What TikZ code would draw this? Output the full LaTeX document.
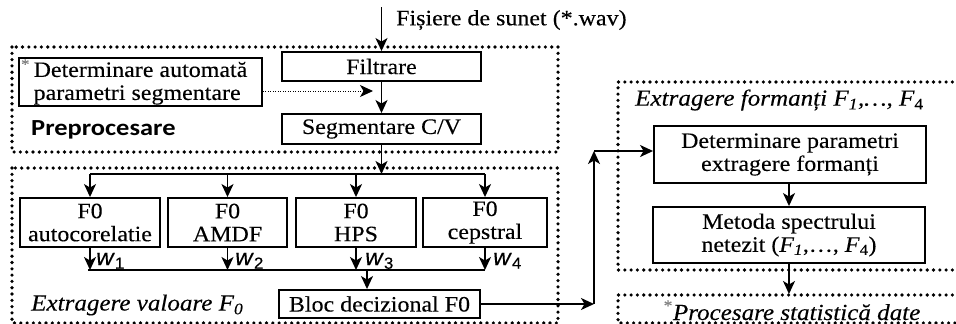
\documentclass[tikz,border=0pt]{standalone}
\usepackage{fontspec}
\setmainfont{Liberation Serif}[FakeStretch=1.09,FakeBold=0.2]
\newfontfamily\calib{Carlito}[FakeStretch=1.15]
\newfontfamily\arialf{Liberation Sans}[FakeStretch=1.05,FakeBold=0.3]
\usetikzlibrary{arrows.meta}
\tikzset{
  box/.style={draw, line width=1.9pt, align=center, inner sep=0pt, font=\fontsize{22}{23}\selectfont},
  region/.style={line width=3.6pt, dash pattern=on 0pt off 6.3pt, line cap=round},
  arr/.style={line width=1.7pt, -{Stealth[length=13pt,width=12pt,inset=3.5pt]}},
  dotarr/.style={line width=1pt, dash pattern=on 1pt off 1.5pt, -{Stealth[length=13pt,width=12pt,inset=3.5pt]}},
  bus/.style={line width=1.7pt},
  txt/.style={inner sep=0pt, font=\fontsize{22}{23}\selectfont},
  ttl/.style={inner sep=0pt, font=\fontsize{23}{24}\selectfont\itshape},
  wlab/.style={inner sep=0pt, font=\arialf\fontsize{23}{24}\selectfont}
}
\begin{document}
\begin{tikzpicture}[x=1pt,y=-1pt]
\useasboundingbox (0,0) rectangle (956,324);
% dotted regions
\draw[region] (12,47) rectangle (558,152);
\draw[region] (12,168) rectangle (558,323);
\draw[region] (965,82) -- (618,82) -- (618,270) -- (965,270);
\draw[region] (965,295) -- (618,295) -- (618,323) -- (965,323);
% input
\node[txt, anchor=west] (src) at (396,20) {Fișiere de sunet (*.wav)};
% preprocessing
\node[box, minimum width=199pt, minimum height=29pt] (filt) at (381.5,66.5) {Filtrare};
\node[box, minimum width=199pt, minimum height=30pt] (seg) at (381.5,129) {Segmentare C/V};
\node[box, minimum width=243pt, minimum height=48pt, align=left] (auto) at (140.5,82)
  {\llap{\textcolor{gray}{\textsuperscript{*}}\,}Determinare automată\\parametri segmentare};
\node[inner sep=0pt, anchor=west, font=\calib\bfseries\fontsize{23}{24}\selectfont] (pre) at (31,130) {Preprocesare};
\coordinate (in) at (381.5,7);
\draw[arr] (in) -- (filt.north);
\draw[arr] (filt.south) -- (seg.north);
\coordinate (dj) at (373,91);
\draw[dotarr] (auto.east |- dj) -- (dj);
% F0 extraction
\node[box, minimum width=140pt, minimum height=49pt] (a1) at (90,222.5) {F0\\autocorelatie};
\node[box, minimum width=119pt, minimum height=49pt] (a2) at (227.5,222.5) {F0\\AMDF};
\node[box, minimum width=120pt, minimum height=49pt] (a3) at (356,222.5) {F0\\HPS};
\node[box, minimum width=124pt, minimum height=49pt] (a4) at (485,222.5) {F0\\cepstral};
\coordinate (b1) at (381.5,174);
\draw[arr] (seg.south) -- (b1);
\draw[bus] (a1.north |- b1) -- (a4.north |- b1);
\foreach \n in {a1,a2,a3,a4} \draw[arr] (\n.north |- b1) -- (\n.north);
\coordinate (b2) at (367,270);
\foreach \n in {a1,a2,a3,a4} \draw[arr] (\n.south) -- (\n.south |- b2);
\draw[bus] ([xshift=-2pt]a1.south |- b2) -- (a4.south |- b2);
\node[wlab, anchor=base west] (w1) at (96,265) {\textit{w}\textsubscript{1}};
\node[wlab, anchor=base west] (w2) at (235,265) {\textit{w}\textsubscript{2}};
\node[wlab, anchor=base west] (w3) at (365,265) {\textit{w}\textsubscript{3}};
\node[wlab, anchor=base west] (w4) at (493,265) {\textit{w}\textsubscript{4}};
\node[box, minimum width=201pt, minimum height=28pt] (bloc) at (379.5,304) {Bloc decizional F0};
\draw[arr] (b2) -- (b2 |- bloc.north);
\node[ttl, anchor=west] (tf0) at (31,305) {Extragere valoare F\textsubscript{0}};
% formants
\node[ttl, anchor=west] (tfr) at (635,100) {Extragere formanți F\textsubscript{1},…, F\textsubscript{\upshape 4}};
\node[box, minimum width=272pt, minimum height=57pt] (dpf) at (790,154.5) {Determinare parametri\\extragere formanți};
\node[box, minimum width=272pt, minimum height=56pt] (met) at (789,235) {Metoda spectrului\\netezit (\textit{F\textsubscript{1}},…, \textit{F}\textsubscript{4})};
\coordinate (c1) at (594,304);
\coordinate (c2) at (594,151);
\draw[arr] (bloc.east) -- (c1);
\draw[arr] (c1) -- (c2);
\draw[arr] (c2) -- (c2 -| dpf.west);
\draw[arr] (met.north |- dpf.south) -- (met.north);
\coordinate (pr) at (789,294);
\draw[arr] (met.south) -- (pr);
\node[ttl, anchor=base] (proc) at (792,320) {\textcolor{gray}{\textsuperscript{\upshape *}}Procesare statistică date};
\end{tikzpicture}
\end{document}
